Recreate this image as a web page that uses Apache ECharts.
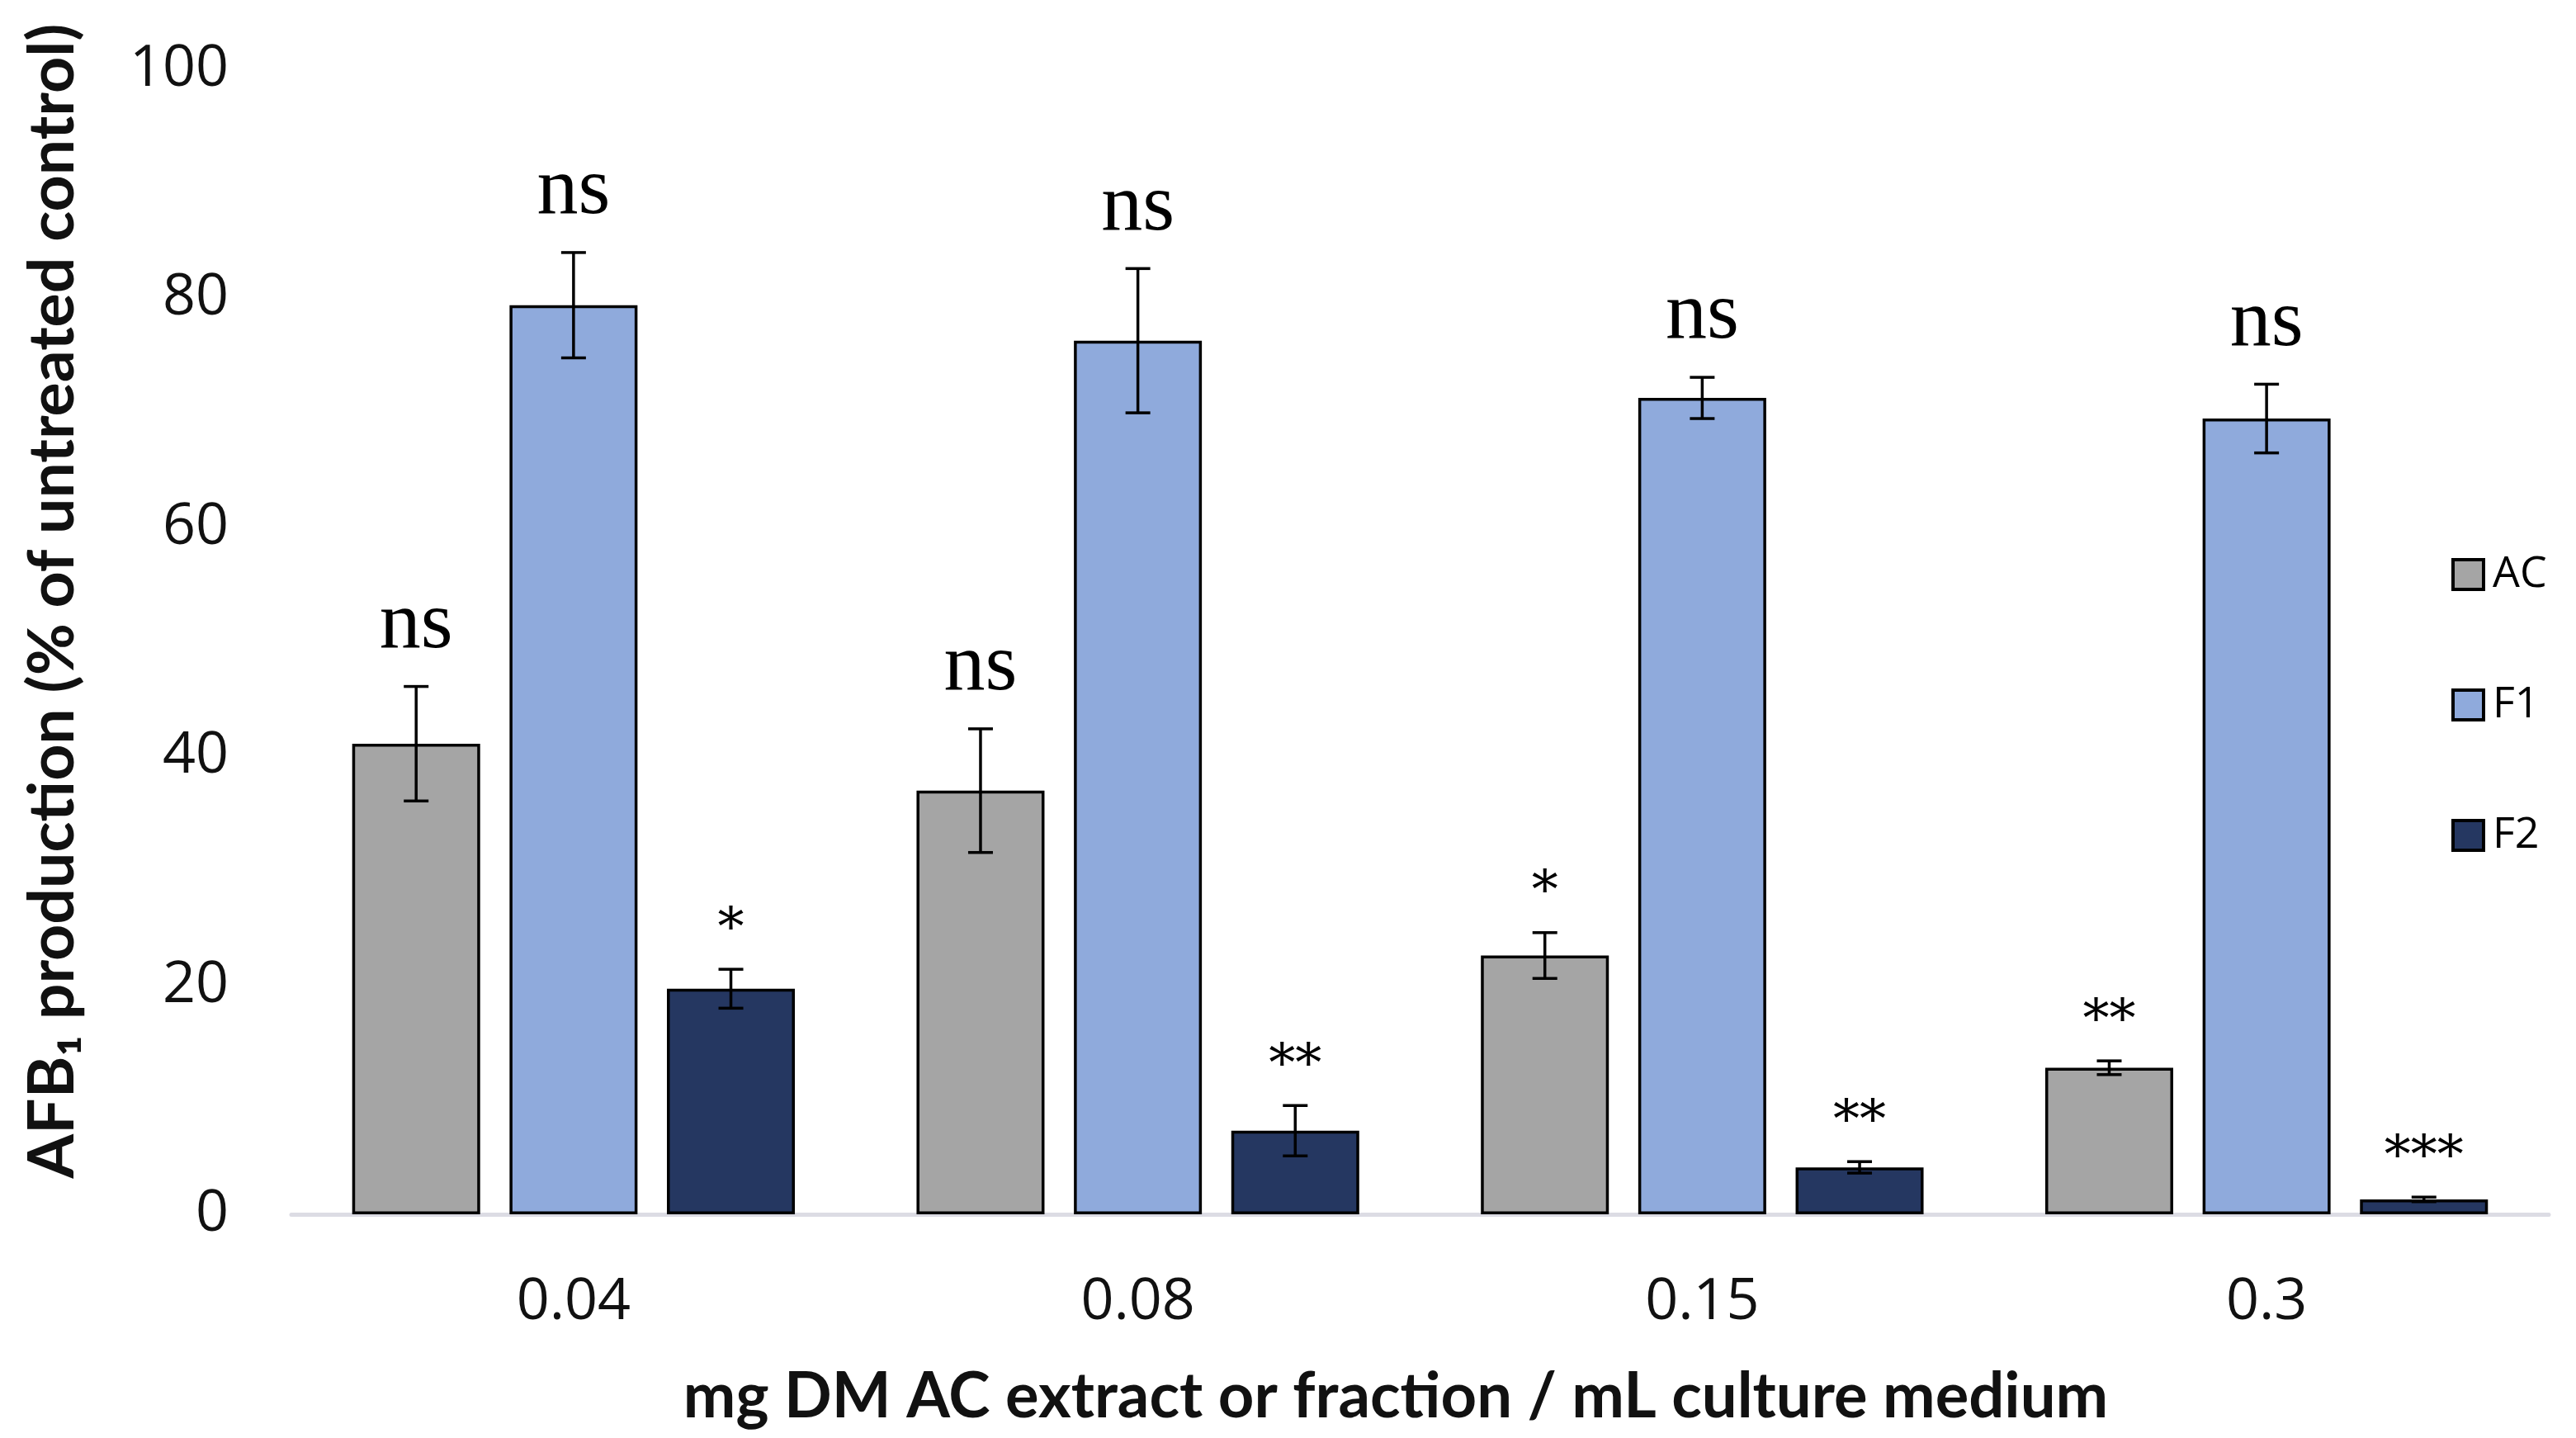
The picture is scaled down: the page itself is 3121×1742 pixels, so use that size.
<!DOCTYPE html>
<html>
<head>
<meta charset="utf-8">
<script src="https://cdn.jsdelivr.net/npm/echarts@6/dist/echarts.min.js"></script>
<style>
html,body{margin:0;padding:0;background:#fff;}
#chart{width:3121px;height:1742px;}
</style>
</head>
<body>
<div id="chart"></div>
<script>
const categories = ['0.04', '0.08', '0.15', '0.3'];
const seriesNames = ['AC', 'F1', 'F2'];
const acValues = [41.1, 37.0, 22.6, 12.8];
const f1Values = [79.4, 76.3, 71.3, 69.5];
const f2Values = [19.7, 7.3, 4.1, 1.3];
const acErrors = [5.0, 5.4, 2.0, 0.6];
const f1Errors = [4.6, 6.3, 1.8, 3.0];
const f2Errors = [1.7, 2.2, 0.5, 0.2];
const acSig = ['ns', 'ns', '*', '**'];
const f1Sig = ['ns', 'ns', 'ns', 'ns'];
const f2Sig = ['*', '**', '**', '***'];
const yTicks = [0, 20, 40, 60, 80, 100];

const values = [acValues, f1Values, f2Values];
const errors = [acErrors, f1Errors, f2Errors];
const sigs = [acSig, f1Sig, f2Sig];
const colors = ['#a5a5a5', '#8faadc', '#253761'];

const BAR_W = 0.2267;   // fraction of band
const BAR_GAP = 0.23;   // fraction of bar width
const STEP = BAR_W * (1 + BAR_GAP);

const chart = echarts.init(document.getElementById('chart'));

const barSeries = seriesNames.map((name, i) => ({
  name: name,
  type: 'bar',
  data: values[i],
  barWidth: (BAR_W * 100) + '%',
  barGap: (BAR_GAP * 100) + '%',
  itemStyle: { color: colors[i], borderColor: '#000', borderWidth: 3.5 },
  z: 2
}));

const errSeries = seriesNames.map((name, i) => ({
  name: name + '-err',
  type: 'custom',
  z: 5,
  silent: true,
  data: categories.map((c, k) => [k, values[i][k], errors[i][k]]),
  renderItem: function (params, api) {
    const k = api.value(0);
    const v = api.value(1);
    const e = api.value(2);
    const band = api.size([1, 0])[0];
    const dx = (i - 1) * STEP * band;
    const top = api.coord([k, v + e]);
    const bot = api.coord([k, v - e]);
    const x = top[0] + dx;
    const cap = 15;
    const label = sigs[i][k];
    const isStar = label.charAt(0) === '*';
    return {
      type: 'group',
      children: [
        { type: 'line', shape: { x1: x, y1: top[1], x2: x, y2: bot[1] }, style: { stroke: '#000', lineWidth: 3.5 } },
        { type: 'line', shape: { x1: x - cap, y1: top[1], x2: x + cap, y2: top[1] }, style: { stroke: '#000', lineWidth: 3.5 } },
        { type: 'line', shape: { x1: x - cap, y1: bot[1], x2: x + cap, y2: bot[1] }, style: { stroke: '#000', lineWidth: 3.5 } },
        {
          type: 'text',
          style: {
            x: x,
            y: top[1] - (isStar ? 46 : 74),
            text: label,
            fontFamily: isStar ? 'DejaVu Serif' : 'Liberation Serif',
            fontSize: isStar ? 64 : 100,
            fill: '#000',
            align: 'center',
            verticalAlign: 'middle'
          }
        }
      ]
    };
  }
}));

chart.setOption({
  animation: false,
  backgroundColor: '#fff',
  grid: { left: 353, right: 33, top: 84, bottom: 271, containLabel: false },
  legend: {
    data: seriesNames,
    orient: 'vertical',
    left: 2965,
    top: 661,
    itemWidth: 37,
    itemHeight: 36,
    itemGap: 98,
    icon: 'rect',
    itemStyle: { borderColor: '#000', borderWidth: 4 },
    textStyle: { fontFamily: 'Open Sans', fontSize: 52, color: '#000', lineHeight: 60, padding: [0, 0, 0, 6] }
  },
  xAxis: {
    type: 'category',
    data: categories,
    axisLine: { lineStyle: { color: '#dcdce4', width: 5 } },
    axisTick: { show: false },
    axisLabel: { fontFamily: 'Open Sans', fontSize: 70, color: '#111', margin: 72 },
    splitLine: { show: false }
  },
  yAxis: {
    type: 'value',
    min: yTicks[0],
    max: yTicks[yTicks.length - 1],
    interval: 20,
    axisLine: { show: false },
    axisTick: { show: false },
    splitLine: { show: false },
    axisLabel: { fontFamily: 'Open Sans', fontSize: 70, color: '#111', margin: 76 }
  },
  graphic: [
    {
      type: 'text',
      x: 64,
      y: 728,
      rotation: Math.PI / 2,
      style: {
        text: 'AFB\u2081 production (% of untreated control)',
        fontFamily: 'Lato',
        fontWeight: 'bold',
        fontSize: 77,
        fill: '#111',
        align: 'center',
        verticalAlign: 'middle'
      }
    },
    {
      type: 'text',
      x: 1691,
      y: 1692,
      style: {
        text: 'mg DM AC extract or fraction / mL culture medium',
        fontFamily: 'Lato',
        fontWeight: 'bold',
        fontSize: 76,
        fill: '#111',
        align: 'center',
        verticalAlign: 'middle'
      }
    }
  ],
  series: barSeries.concat(errSeries)
});
</script>
</body>
</html>
